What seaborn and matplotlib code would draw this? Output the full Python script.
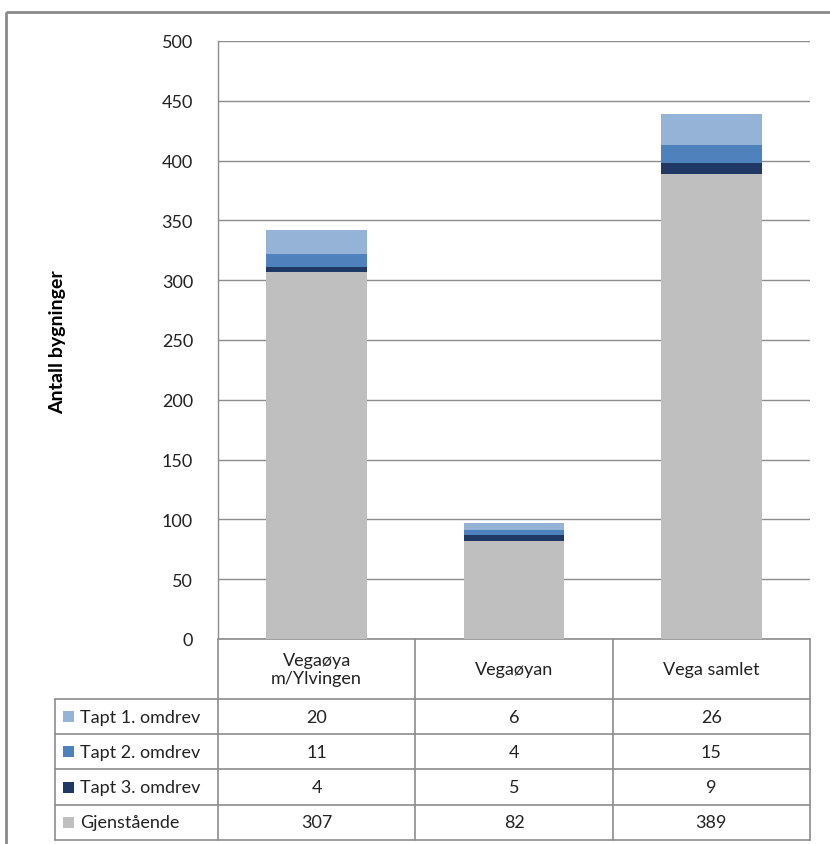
import matplotlib
matplotlib.use("Agg")
import matplotlib.pyplot as plt
import matplotlib.transforms as mtransforms
from matplotlib.patches import Rectangle
import numpy as np
import pandas as pd
import seaborn as sns

# data
categories = ["Vegaøya\nm/Ylvingen", "Vegaøyan", "Vega samlet"]
series_names = ["Tapt 1. omdrev", "Tapt 2. omdrev", "Tapt 3. omdrev", "Gjenstående"]
tapt1 = [20, 6, 26]
tapt2 = [11, 4, 15]
tapt3 = [4, 5, 9]
gjenstaende = [307, 82, 389]
series_colors = ["#95B3D7", "#4F81BD", "#1F3864", "#BFBFBF"]

sns.set_style("white")
plt.rcParams["font.family"] = ["Lato", "DejaVu Sans"]
txt_color = "#222222"
line_color = "#8C8C8C"
fs = 13

W, H = 830, 845
fig = plt.figure(figsize=(W / 100, H / 100), dpi=100)

# overlay in pixel coordinates for frame and table
over = fig.add_axes([0, 0, 1, 1], zorder=0)
over.set_xlim(0, W)
over.set_ylim(H, 0)
over.axis("off")

ax = fig.add_axes([218 / W, 1 - 640 / H, (810 - 218) / W, (640 - 42) / H], zorder=1)
ax.patch.set_alpha(0)

# stacked bars: draw cumulative totals, tallest first
series = [tapt1, tapt2, tapt3, gjenstaende]
df = pd.DataFrame({name: vals for name, vals in zip(series_names, series)}, index=categories)
stack_order = series_names[::-1]  # bottom -> top
cum = df[stack_order].cumsum(axis=1)
for name, color in zip(series_names, series_colors):
    sns.barplot(x=list(range(len(categories))), y=cum[name].values, color=color,
                saturation=1, width=0.51, linewidth=0, ax=ax, zorder=3, native_scale=True)

ax.set_xlim(-0.5, len(categories) - 0.5)
ax.set_ylim(0, 500)
ax.set_yticks(np.arange(0, 501, 50))
ax.set_yticklabels([str(v) for v in range(0, 501, 50)], fontsize=fs, color=txt_color)
ax.tick_params(axis="y", length=0, pad=18)
ax.set_xticks([])
ax.grid(axis="y", color=line_color, linewidth=1, zorder=0)
for s in ["top", "right", "bottom"]:
    ax.spines[s].set_visible(False)
ax.spines["left"].set_color(line_color)
ax.spines["left"].set_linewidth(1)
ax.set_xlabel("")
ax.set_ylabel("")

fig.text(58 / W, 1 - 342 / H, "Antall bygninger", rotation=90, ha="center", va="center",
         fontsize=14, fontweight="bold", color="#000000")

# outer frame
over.add_patch(Rectangle((6, 13), 900, 900, fill=False, edgecolor="#8A8A8A", linewidth=2))

# data table
tab_left, col_left, tab_right = 55, 218, 810
header_top, header_bot = 640, 700
row_h = 35.2
row_tops = [header_bot + i * row_h for i in range(len(series_names) + 1)]
tab_bot = row_tops[-1]
lw = 1.2
# horizontal lines
over.plot([col_left, tab_right], [header_top, header_top], color=line_color, lw=lw)
for y in row_tops:
    over.plot([tab_left, tab_right], [y, y], color=line_color, lw=lw)
# vertical lines
over.plot([tab_left, tab_left], [header_bot, tab_bot], color=line_color, lw=lw)
col_edges = np.linspace(col_left, tab_right, len(categories) + 1)
for x in col_edges:
    over.plot([x, x], [header_top, tab_bot], color=line_color, lw=lw)

blend = mtransforms.blended_transform_factory(ax.transData, over.transData)
for i, cat in enumerate(categories):
    over.text(i, (header_top + header_bot) / 2, cat, transform=blend, ha="center", va="center",
              fontsize=fs, color=txt_color, linespacing=1.15)

for r, name in enumerate(series_names):
    yc = row_tops[r] + row_h / 2
    over.add_patch(Rectangle((63, yc - 5.5), 11, 11, color=series_colors[r], lw=0))
    over.text(80, yc, name, ha="left", va="center", fontsize=fs, color=txt_color)
    for i, v in enumerate(df[name].values):
        over.text(i, yc, str(v), transform=blend, ha="center", va="center", fontsize=fs, color=txt_color)

fig.savefig("out.png", dpi=100)
